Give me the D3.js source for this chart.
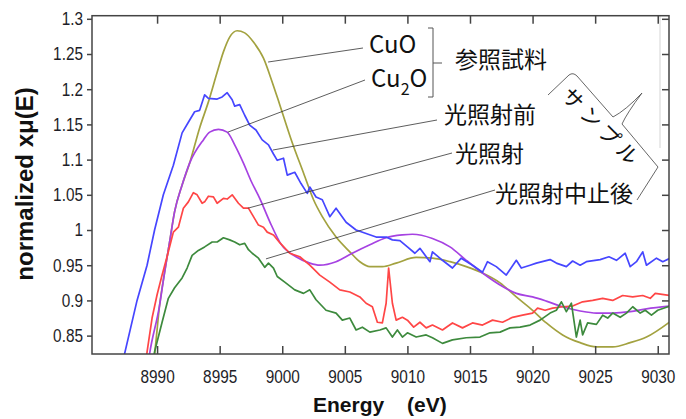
<!DOCTYPE html>
<html>
<head>
<meta charset="utf-8">
<script src="https://cdn.jsdelivr.net/npm/d3@7"></script>
<style>
    body { margin: 0; background: #fff; }
    svg { display: block; }
</style>
</head>
<body>
<svg id="chart" width="686" height="419"></svg>
<script>
// tick values
const xTicks = [8990, 8995, 9000, 9005, 9010, 9015, 9020, 9025, 9030];
const yTicks = [0.85, 0.9, 0.95, 1, 1.05, 1.1, 1.15, 1.2, 1.25, 1.3];

// reference samples (smooth)
const cuo = [[8989.6,0.80],[8989.8,0.824],[8990.2,0.893],[8990.6,0.94],[8991,0.983],[8991.4,1.026],[8992,1.064],[8992.6,1.095],[8993.4,1.145],[8994.1,1.182],[8994.8,1.224],[8995.3,1.253],[8995.8,1.274],[8996.4,1.283],[8997,1.28],[8997.7,1.267],[8998.5,1.244],[8999.2,1.21],[8999.8,1.178],[9000.8,1.124],[9001.7,1.081],[9002.5,1.043],[9003.2,1.019],[9004.3,0.99],[9005.4,0.969],[9006.2,0.955],[9007,0.948],[9008,0.948],[9009.1,0.953],[9010.7,0.961],[9012,0.96],[9013.4,0.955],[9014.7,0.948],[9016,0.939],[9017.4,0.925],[9018.7,0.905],[9020,0.886],[9021.1,0.868],[9022.4,0.851],[9023.8,0.84],[9025.1,0.834],[9026.4,0.834],[9027.8,0.84],[9029.1,0.848],[9031,0.87]];
const cu2o = [[8989.2,0.80],[8989.4,0.824],[8990.2,0.893],[8990.6,0.94],[8991,0.983],[8991.4,1.026],[8992,1.064],[8992.6,1.095],[8993.7,1.128],[8994.2,1.139],[8994.9,1.143],[8995.6,1.139],[8996.2,1.121],[8996.9,1.095],[8997.5,1.07],[8998.2,1.045],[8999,1.012],[8999.9,0.98],[9001.1,0.962],[9002.2,0.953],[9003,0.95],[9004.3,0.955],[9005.6,0.967],[9007,0.979],[9008.3,0.989],[9009.6,0.993],[9010.4,0.994],[9012,0.988],[9013.4,0.976],[9014.7,0.957],[9016,0.939],[9017.4,0.922],[9018.7,0.91],[9020,0.905],[9021.1,0.899],[9022.4,0.891],[9023.8,0.885],[9025.1,0.882],[9026.4,0.882],[9027.8,0.884],[9029.1,0.888],[9031,0.892]];

// sample measurements (noisy)
const beforeLight = [[8987.2,0.81],[8987.4,0.824],[8988.4,0.9],[8989.2,0.95],[8989.8,1.0],[8990.5,1.05],[8991.3,1.092],[8992,1.138],[8992.5,1.153],[8993,1.168],[8993.4,1.170],[8993.8,1.192],[8994.1,1.187],[8994.8,1.186],[8995.2,1.189],[8995.6,1.195],[8996,1.185],[8996.2,1.176],[8996.6,1.178],[8997,1.163],[8997.4,1.149],[8997.9,1.142],[8998.4,1.128],[8998.9,1.121],[8999.3,1.108],[8999.6,1.099],[9000.1,1.102],[9000.4,1.078],[9001,1.082],[9001.5,1.066],[9002,1.052],[9002.2,1.061],[9002.7,1.047],[9003.2,1.043],[9003.8,1.019],[9004.3,1.031],[9005.1,1.011],[9005.9,1.0],[9006.7,0.995],[9007.5,0.99],[9008.3,0.99],[9008.8,0.986],[9009.4,0.985],[9010,0.976],[9010.6,0.967],[9011,0.974],[9011.8,0.955],[9012,0.969],[9012.8,0.957],[9013.6,0.946],[9014.3,0.96],[9015.2,0.95],[9016,0.94],[9016.4,0.955],[9017.1,0.948],[9017.9,0.936],[9018.7,0.957],[9019.1,0.946],[9019.8,0.95],[9020.3,0.953],[9021.4,0.958],[9021.9,0.953],[9022.7,0.948],[9023.2,0.956],[9023.8,0.95],[9024.3,0.955],[9025.4,0.958],[9026.1,0.962],[9026.7,0.957],[9027.4,0.967],[9027.8,0.948],[9028.3,0.955],[9028.8,0.969],[9029.1,0.95],[9029.9,0.96],[9030.4,0.955],[9031,0.96]];
const duringLight = [[8989.1,0.81],[8989.2,0.827],[8989.6,0.875],[8990,0.908],[8990.4,0.936],[8990.9,0.969],[8991.3,0.997],[8991.7,1.004],[8992.1,1.031],[8992.5,1.04],[8992.9,1.053],[8993.2,1.05],[8993.6,1.038],[8993.8,1.04],[8994.1,1.048],[8994.5,1.047],[8994.8,1.038],[8995.3,1.045],[8995.6,1.044],[8996,1.05],[8996.5,1.038],[8996.9,1.031],[8997.3,1.031],[8997.7,1.019],[8998.1,1.007],[8998.5,1.004],[8998.8,0.997],[8999.3,0.993],[8999.8,0.982],[9000.6,0.967],[9001.4,0.962],[9002.2,0.95],[9003,0.936],[9003.8,0.926],[9004.6,0.915],[9005.4,0.912],[9006.2,0.905],[9006.7,0.896],[9007.2,0.891],[9007.6,0.869],[9008,0.868],[9008.3,0.896],[9008.5,0.946],[9008.8,0.896],[9009.1,0.872],[9009.6,0.876],[9010,0.872],[9010.5,0.862],[9011,0.869],[9011.5,0.861],[9012,0.865],[9012.8,0.858],[9013.6,0.868],[9014.4,0.861],[9015.2,0.868],[9016,0.865],[9016.8,0.872],[9017.6,0.869],[9018.4,0.876],[9019.2,0.879],[9020,0.882],[9020.4,0.889],[9021,0.886],[9021.6,0.889],[9022.4,0.891],[9023.2,0.892],[9024,0.898],[9024.8,0.9],[9025.6,0.903],[9026.4,0.9],[9027.2,0.907],[9028,0.905],[9028.8,0.907],[9029.4,0.903],[9029.8,0.91],[9031,0.907]];
const afterStop = [[8989.7,0.81],[8989.8,0.827],[8990.4,0.869],[8990.9,0.903],[8991.4,0.918],[8992,0.932],[8992.4,0.946],[8992.8,0.964],[8993.3,0.971],[8993.8,0.976],[8994.4,0.983],[8994.8,0.983],[8995.3,0.989],[8995.8,0.986],[8996.2,0.983],[8996.6,0.979],[8997,0.981],[8997.3,0.972],[8997.6,0.967],[8998.1,0.96],[8998.6,0.947],[8998.9,0.953],[8999.3,0.946],[8999.6,0.934],[9000.2,0.926],[9001,0.915],[9001.7,0.91],[9002.2,0.915],[9002.7,0.901],[9003.5,0.886],[9004.3,0.882],[9004.8,0.872],[9005.4,0.875],[9005.9,0.858],[9006.4,0.862],[9007,0.855],[9007.8,0.858],[9008.3,0.861],[9008.8,0.848],[9009.2,0.858],[9009.6,0.848],[9010,0.854],[9010.7,0.848],[9011.5,0.851],[9012,0.847],[9012.8,0.839],[9013.6,0.844],[9014.7,0.847],[9015.8,0.848],[9016.6,0.854],[9017.4,0.855],[9018.2,0.861],[9019,0.862],[9019.8,0.865],[9020.6,0.872],[9021.4,0.882],[9021.9,0.886],[9022.3,0.898],[9022.7,0.884],[9023.1,0.896],[9023.5,0.848],[9023.8,0.872],[9024,0.851],[9024.4,0.868],[9025.1,0.866],[9025.6,0.879],[9026,0.875],[9026.4,0.882],[9027,0.876],[9027.5,0.882],[9028,0.891],[9028.6,0.882],[9029,0.886],[9029.5,0.879],[9030,0.886],[9031,0.892]];

// labels with the data point each leader line points at
const labels = [
    { text: "CuO", at: [8998.87, 1.2386], from: [363, 48] },
    { text: "Cu2O", at: [8995.65, 1.139], from: [365, 80] },
    { text: "光照射前", at: [8999.25, 1.1136], from: [437, 120] },
    { text: "光照射", at: [8997.25, 1.031], from: [452, 153] },
    { text: "光照射中止後", at: [8998.7, 0.959], from: [495, 190] }
];

const svg = d3.select("#chart");
const width = 686, height = 419;
const margin = { top: 15.7, right: 17, bottom: 65, left: 92 };
const frameColor = "#444";
const tickFont = "'Liberation Sans', Arial, sans-serif";
const jpFont = "'Noto Sans CJK JP', 'Noto Sans', sans-serif";

const x = d3.scaleLinear()
    .domain([8984.8, 9030.9])
    .range([margin.left, width - margin.right]);
const y = d3.scaleLinear()
    .domain([0.8239, 1.3044])
    .range([height - margin.bottom, margin.top]);

// clip lines to the plot area
svg.append("defs").append("clipPath").attr("id", "plot-clip")
    .append("rect")
    .attr("x", margin.left)
    .attr("y", margin.top)
    .attr("width", width - margin.left - margin.right)
    .attr("height", height - margin.top - margin.bottom);

// faint leftover line at the right of the frame
svg.append("line")
    .attr("x1", 660).attr("x2", 660)
    .attr("y1", margin.top).attr("y2", 148)
    .attr("stroke", "#d4d4d4").attr("stroke-width", 1);

// series
const series = [
    { data: cuo, color: "#a3a240", smooth: true },
    { data: cu2o, color: "#a642e2", smooth: true },
    { data: beforeLight, color: "#4646ff", smooth: false },
    { data: duringLight, color: "#ff4646", smooth: false },
    { data: afterStop, color: "#3d8a3d", smooth: false }
];
const plot = svg.append("g").attr("clip-path", "url(#plot-clip)");
for (const s of series) {
    const line = d3.line()
        .x(d => x(d[0]))
        .y(d => y(d[1]))
        .curve(s.smooth ? d3.curveMonotoneX : d3.curveLinear);
    plot.append("path")
        .datum(s.data)
        .attr("d", line)
        .attr("fill", "none")
        .attr("stroke", s.color)
        .attr("stroke-width", 1.7)
        .attr("stroke-linejoin", "round");
}

// frame
svg.append("rect")
    .attr("x", margin.left)
    .attr("y", margin.top)
    .attr("width", width - margin.left - margin.right)
    .attr("height", height - margin.top - margin.bottom)
    .attr("fill", "none")
    .attr("stroke", frameColor)
    .attr("stroke-width", 1.5);

// left axis (ticks outside)
const axisL = svg.append("g")
    .attr("transform", `translate(${margin.left},0)`)
    .call(d3.axisLeft(y).tickValues(yTicks).tickSize(5).tickFormat(d => String(d)));
// bottom axis (ticks inside)
const axisB = svg.append("g")
    .attr("transform", `translate(0,${height - margin.bottom})`)
    .call(d3.axisBottom(x).tickValues(xTicks).tickSizeInner(-8).tickSizeOuter(0)
        .tickPadding(16).tickFormat(d => String(d)));
// top and right: ticks only
const axisT = svg.append("g")
    .attr("transform", `translate(0,${margin.top})`)
    .call(d3.axisTop(x).tickValues(xTicks).tickSizeInner(-8).tickSizeOuter(0).tickFormat(""));
const axisR = svg.append("g")
    .attr("transform", `translate(${width - margin.right},0)`)
    .call(d3.axisRight(y).tickValues(yTicks).tickSizeInner(-7).tickSizeOuter(0).tickFormat(""));

for (const g of [axisL, axisB, axisT, axisR]) {
    g.select(".domain").remove();
    g.selectAll(".tick line").attr("stroke", frameColor).attr("stroke-width", 1.5);
    g.selectAll(".tick text")
        .attr("fill", "#1e1e28")
        .style("font-family", tickFont)
        .style("font-size", "18.5px");
}
// narrow digits, as in the original
axisL.selectAll(".tick text").attr("x", 0).attr("transform", "translate(-9,0) scale(0.83,1)");
axisB.selectAll(".tick text").attr("transform", "scale(0.83,1)");

// axis titles
svg.append("text")
    .attr("transform", "translate(33,184) rotate(-90)")
    .attr("text-anchor", "middle")
    .attr("fill", "#111")
    .style("font-family", tickFont)
    .style("font-size", "24px")
    .style("font-weight", "bold")
    .text("normalized xμ(E)");
svg.append("text")
    .attr("x", 313).attr("y", 412)
    .attr("fill", "#111")
    .style("font-family", tickFont)
    .style("font-size", "21px")
    .style("font-weight", "bold")
    .text("Energy");
svg.append("text")
    .attr("x", 407).attr("y", 412)
    .attr("fill", "#111")
    .style("font-family", tickFont)
    .style("font-size", "21px")
    .style("font-weight", "bold")
    .text("(eV)");

// leader lines
svg.append("g")
    .selectAll("line")
    .data(labels)
    .join("line")
    .attr("x1", d => d.from[0]).attr("y1", d => d.from[1])
    .attr("x2", d => x(d.at[0])).attr("y2", d => y(d.at[1]))
    .attr("stroke", "#333")
    .attr("stroke-width", 0.8);

// label texts
const ann = svg.append("g").attr("fill", "#111").style("font-family", jpFont);
ann.append("text").attr("x", 369).attr("y", 53).style("font-size", "24px").text("CuO");
const cu2oText = ann.append("text").attr("x", 371).attr("y", 87).style("font-size", "24px");
cu2oText.append("tspan").text("Cu");
cu2oText.append("tspan").attr("dy", 8).style("font-size", "16px").text("2");
cu2oText.append("tspan").attr("dy", -8).text("O");
ann.append("text").attr("x", 455).attr("y", 57.5).attr("dominant-baseline", "central").style("font-size", "23px").text("参照試料");
ann.append("text").attr("x", 444).attr("y", 113).attr("dominant-baseline", "central").style("font-size", "23px").text("光照射前");
ann.append("text").attr("x", 455).attr("y", 152).attr("dominant-baseline", "central").style("font-size", "23px").text("光照射");
ann.append("text").attr("x", 495).attr("y", 192).attr("dominant-baseline", "central").style("font-size", "23px").text("光照射中止後");

// bracket for reference samples
svg.append("path")
    .attr("d", "M428,28 H433 V97 H428 M433,63 H442")
    .attr("fill", "none")
    .attr("stroke", "#555")
    .attr("stroke-width", 1);

// rotated brace for the samples
svg.append("path")
    .attr("d", "M548,95 L569,75 Q573,72 577,76 L613,117 Q626,110 642,93 Q627,113 622,124 L658,167 L637,200")
    .attr("fill", "none")
    .attr("stroke", "#555")
    .attr("stroke-width", 0.9);
ann.append("text")
    .attr("transform", "translate(603,127) rotate(45)")
    .attr("text-anchor", "middle")
    .attr("dominant-baseline", "central")
    .style("font-size", "21px")
    .style("letter-spacing", "5px")
    .text("サンプル");
</script>
</body>
</html>
